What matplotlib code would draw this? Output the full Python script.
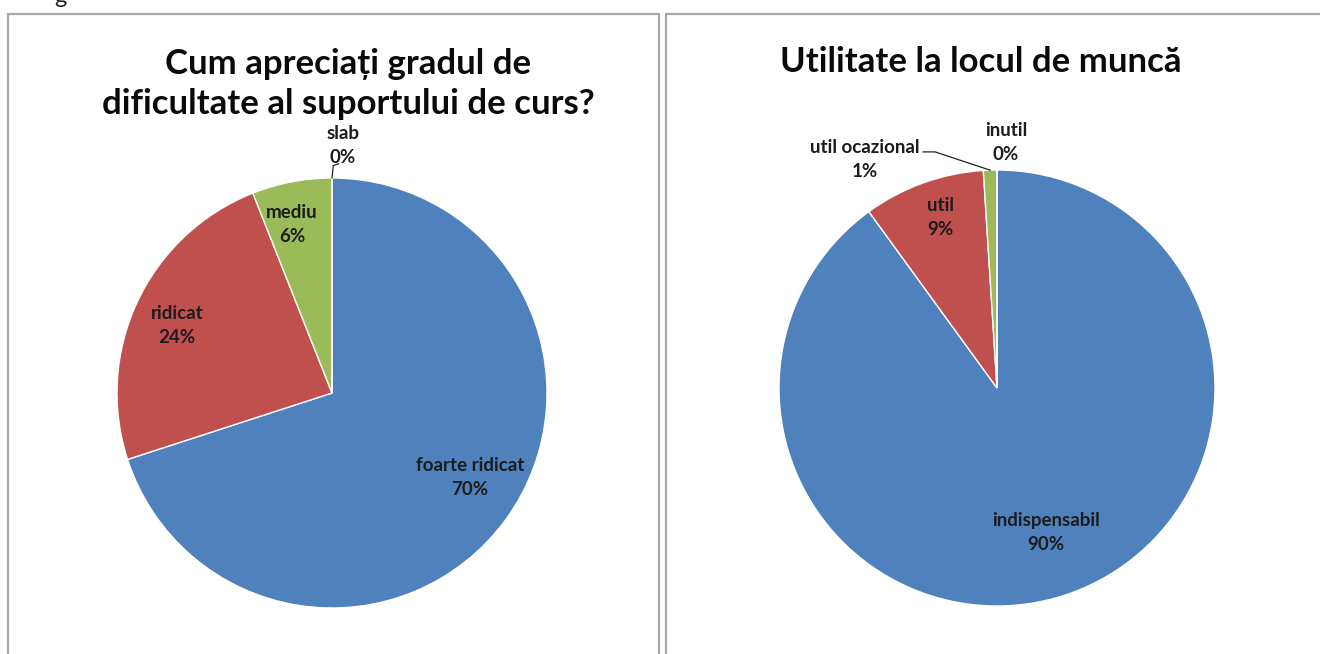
import matplotlib
matplotlib.use("Agg")
import matplotlib.pyplot as plt
from matplotlib.patches import Rectangle

plt.rcParams['font.family'] = ['Lato', 'DejaVu Sans']

W, H = 1320, 654

# Left chart: course material difficulty
dificultate_labels = ['foarte ridicat', 'ridicat', 'mediu', 'slab']
dificultate_values = [70, 24, 6, 0]

# Right chart: usefulness at work
utilitate_labels = ['indispensabil', 'util', 'util ocazional', 'inutil']
utilitate_values = [90, 9, 1, 0]

colors = ['#4F81BD', '#C0504D', '#9BBB59', '#8064A2']

fig = plt.figure(figsize=(W / 100, H / 100), dpi=100)
fig.patch.set_facecolor('white')


def pie_axes(cx, cy, r):
    # square axes in pixel units, pie radius = 1
    ax = fig.add_axes([(cx - r) / W, 1 - (cy + r) / H, 2 * r / W, 2 * r / H])
    return ax


def draw_pie(ax, values, labels, label_pos, leaders):
    wedges, _ = ax.pie(values, colors=colors, startangle=90, counterclock=False,
                       radius=1, wedgeprops=dict(edgecolor='white', linewidth=1))
    ax.set_xlim(-1, 1)
    ax.set_ylim(-1, 1)
    ax.set_aspect('equal')
    ax.axis('off')
    for lab, val, (x, y) in zip(labels, values, label_pos):
        ax.text(x, y, f'{lab}\n{val}%', ha='center', va='center', fontsize=13.5,
                fontweight='bold', color='#1c1c1c', linespacing=1.5,
                clip_on=False)
    for pts in leaders:
        xs, ys = zip(*pts)
        ax.plot(xs, ys, color='#222222', lw=0.9, clip_on=False)
    return wedges


# panel frames
for x0, x1 in [(8, 659), (666, 1325)]:
    fig.add_artist(Rectangle((x0 / W, -0.05), (x1 - x0) / W, 1.05 - 14 / H,
                             transform=fig.transFigure, fill=False,
                             ec='#a8a8a8', lw=1.6))

# clipped caption text above the frames
fig.text(54 / W, 1 - 3 / H, 'g', ha='left', va='baseline', fontsize=17,
         color='#222222')

ax1 = pie_axes(332, 393, 215)
draw_pie(ax1, dificultate_values, dificultate_labels,
         [(0.642, -0.391), (-0.721, 0.316), (-0.186, 0.786), (0.051, 1.153)],
         [[(0.0, 1.0), (0.006, 1.058), (0.03, 1.066)]])

ax2 = pie_axes(997, 388, 218)
draw_pie(ax2, utilitate_values, utilitate_labels,
         [(0.225, -0.665), (-0.261, 0.784), (-0.606, 1.046), (0.041, 1.128)],
         [[(-0.339, 1.083), (-0.284, 1.083), (-0.031, 0.999)]])

fig.text(348 / W, 1 - 84 / H, 'Cum apreciați gradul de\ndificultate al suportului de curs?',
         ha='center', va='center', fontsize=25, fontweight='bold',
         color='#0a0a0a', linespacing=1.3)
fig.text(981 / W, 1 - 62 / H, 'Utilitate la locul de muncă',
         ha='center', va='center', fontsize=25, fontweight='bold', color='#0a0a0a')

fig.savefig('out.png', dpi=100, facecolor='white')
